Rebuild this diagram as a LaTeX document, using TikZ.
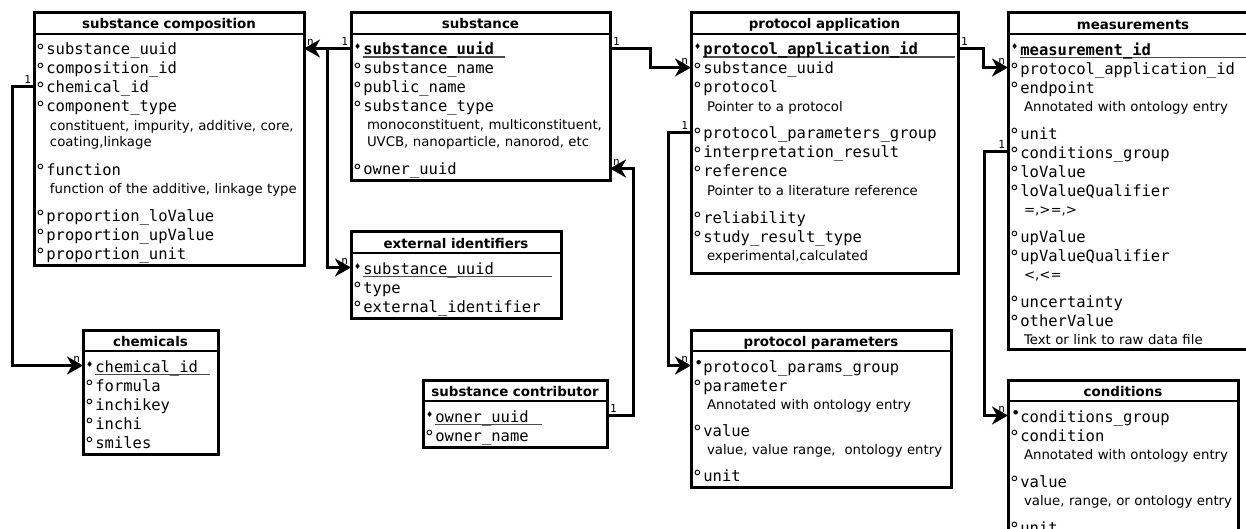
\documentclass[tikz,border=0pt]{standalone}
\usepackage{fontspec}
\setmainfont{DejaVu Sans}
\setmonofont{DejaVu Sans Mono}
\usetikzlibrary{positioning,arrows.meta,matrix}

% plain field: open circle
\newcommand{\fd}[1]{\makebox[9.35pt][l]{\hspace{-1.8pt}\raisebox{-2.2pt}{\fontsize{18}{18}\selectfont °}}#1}
% key field: diamond, underline of given length
\newcommand{\pk}[2]{\makebox[9.35pt][l]{\raisebox{5pt}{\fontsize{8}{8}\selectfont\rmfamily ♦}}\rlap{\color{black!70}\rule[-3pt]{#1}{1.5pt}}#2}
% group field: filled dot
\newcommand{\gk}[1]{\makebox[9.35pt][l]{\raisebox{3.5pt}{•}}#1}

\begin{document}
\begin{tikzpicture}[
    x=1pt, y=-1pt,
    tbl/.style={matrix of nodes, draw, line width=3pt, inner xsep=3pt, inner ysep=0pt, outer sep=0pt, row sep=0pt, anchor=north west, nodes={fld, text width=#1}},
    fld/.style={inner sep=0pt, text height=13pt, text depth=6pt, align=left, font=\fontsize{15.5}{19}\selectfont\ttfamily},
    ttl/.style={text height=16pt, text depth=5pt, align=center, font=\fontsize{13.4}{16}\selectfont\rmfamily\bfseries},
    dsc/.style={text height=12pt, text depth=5pt, font=\fontsize{13.3}{16}\selectfont\rmfamily, execute at begin node={\hspace*{13pt}}},
    sepline/.style={line width=2pt},
    conn/.style={line width=3pt, -{Stealth[length=16pt, width=18pt, inset=5pt]}},
    lbl/.style={font=\fontsize{11}{11}\selectfont\ttfamily, inner sep=1.5pt},
]
    \useasboundingbox (0,0) rectangle (1246,529);
    \clip (0,0) rectangle (1246,529);

    % Tables
    \matrix[tbl=264pt] (comp) at (34,13) {
        |[ttl]| substance composition \\[8pt]
        \fd{substance\_uuid} \\
        \fd{composition\_id} \\
        \fd{chemical\_id} \\
        \fd{component\_type} \\
        |[dsc]| constituent, impurity, additive, core, \\
        |[dsc]| coating,linkage \\[10pt]
        \fd{function} \\
        |[dsc]| function of the additive, linkage type \\[10pt]
        \fd{proportion\_loValue} \\
        \fd{proportion\_upValue} \\
        \fd{proportion\_unit} \\
    };
    \matrix[tbl=253pt, right=47pt of comp.north east, anchor=north west] (sub) {
        |[ttl]| substance \\[8pt]
        \pk{142pt}{\textbf{substance\_uuid}} \\
        \fd{substance\_name} \\
        \fd{public\_name} \\
        \fd{substance\_type} \\
        |[dsc]| monoconstituent, multiconstituent, \\
        |[dsc]| UVCB, nanoparticle, nanorod, etc \\[10pt]
        \fd{owner\_uuid} \\
    };
    \matrix[tbl=261pt, right=81pt of sub.north east, anchor=north west] (PA) {
        |[ttl]| protocol application \\[8pt]
        \pk{252pt}{\textbf{protocol\_application\_id}} \\
        \fd{substance\_uuid} \\
        \fd{protocol} \\
        |[dsc]| Pointer to a protocol \\[10pt]
        \fd{protocol\_parameters\_group} \\
        \fd{interpretation\_result} \\
        \fd{reference} \\
        |[dsc]| Pointer to a literature reference \\[10pt]
        \fd{reliability} \\
        \fd{study\_result\_type} \\
        |[dsc, text depth=13pt]| experimental,calculated \\
    };
    \matrix[tbl=244pt, right=50pt of PA.north east, anchor=north west] (meas) {
        |[ttl]| measurements \\[8pt]
        \pk{234pt}{\textbf{measurement\_id}} \\
        \fd{protocol\_application\_id} \\
        \fd{endpoint} \\
        |[dsc]| Annotated with ontology entry \\[10pt]
        \fd{unit} \\
        \fd{conditions\_group} \\
        \fd{loValue} \\
        \fd{loValueQualifier} \\
        |[dsc]| =,>=,> \\[10pt]
        \fd{upValue} \\
        \fd{upValueQualifier} \\
        |[dsc]| <,<= \\[10pt]
        \fd{uncertainty} \\
        \fd{otherValue} \\
        |[dsc]| Text or link to raw data file \\
    };
    \matrix[tbl=204pt, below=51pt of sub.south west, anchor=north west] (ext) {
        |[ttl]| external identifiers \\[8pt]
        \pk{189pt}{substance\_uuid} \\
        \fd{type} \\
        \fd{external\_identifier} \\
    };
    \matrix[tbl=178pt] (contrib) at (423,380) {
        |[ttl]| substance contributor \\[8pt]
        \pk{107pt}{owner\_uuid} \\
        \fd{owner\_name} \\
    };
    \matrix[tbl=129pt] (chem) at (83,330) {
        |[ttl]| chemicals \\[8pt]
        \pk{115pt}{chemical\_id} \\
        \fd{formula} \\
        \fd{inchikey} \\
        \fd{inchi} \\
        \fd{smiles} \\
    };
    \matrix[tbl=254pt, below=57pt of PA.south west, anchor=north west] (params) {
        |[ttl]| protocol parameters \\[8pt]
        \gk{protocol\_params\_group} \\
        \fd{parameter} \\
        |[dsc]| Annotated with ontology entry \\[9pt]
        \fd{value} \\
        |[dsc]| value, value range,~ ontology entry \\[9pt]
        \fd{unit} \\
    };
    \matrix[tbl=224pt, below=31pt of meas.south west, anchor=north west] (cond) {
        |[ttl]| conditions \\[8pt]
        \gk{conditions\_group} \\
        \fd{condition} \\
        |[dsc]| Annotated with ontology entry \\[10pt]
        \fd{value} \\
        |[dsc]| value, range, or ontology entry \\[10pt]
        \fd{unit} \\
    };

    % title rules
    \foreach \t in {comp,sub,PA,meas,ext,contrib,chem,params,cond}
        \draw[sepline] (\t.west |- \t-1-1.south) -- (\t.east |- \t-1-1.south);

    % Relations
    \draw[conn] ([yshift=3pt]sub.west |- sub-2-1) -- node[lbl, pos=0, above left] {1} node[lbl, pos=1, above right] {n} ([yshift=3pt]comp.east |- sub-2-1);
    \draw[conn] ([xshift=-24pt, yshift=3pt]sub.west |- sub-2-1) |- node[lbl, pos=1, above left] {n} ([yshift=3pt]ext.west |- ext-2-1);
    \draw[conn] ([yshift=3pt]sub.east |- sub-2-1) -- node[lbl, pos=0, above right] {1} ++(40pt,0) |- node[lbl, pos=1, above left] {n} ([yshift=3pt]PA.west |- PA-3-1);
    \draw[conn] ([yshift=3pt]contrib.east |- contrib-2-1) -- node[lbl, pos=0, above right] {1} ++(26pt,0) |- node[lbl, pos=1, above right] {n} ([yshift=3pt]sub.east |- sub-8-1);
    \draw[conn] ([yshift=3pt]comp.west |- comp-4-1) -- node[lbl, pos=0, above left] {1} ++(-22pt,0) |- node[lbl, pos=1, above left] {n} ([yshift=3pt]chem.west |- chem-2-1);
    \draw[conn] ([yshift=3pt]PA.west |- PA-6-1) -- node[lbl, pos=0, above left] {1} ++(-23pt,0) |- node[lbl, pos=1, above left] {n} ([yshift=3pt]params.west |- params-2-1);
    \draw[conn] ([yshift=3pt]PA.east |- PA-2-1) -- node[lbl, pos=0, above right] {1} ++(25pt,0) |- node[lbl, pos=1, above left] {n} ([yshift=3pt]meas.west |- meas-3-1);
    \draw[conn] ([yshift=3pt]meas.west |- meas-7-1) -- node[lbl, pos=0, above left] {1} ++(-24pt,0) |- node[lbl, pos=1, above left] {n} ([yshift=3pt]cond.west |- cond-2-1);
\end{tikzpicture}
\end{document}
